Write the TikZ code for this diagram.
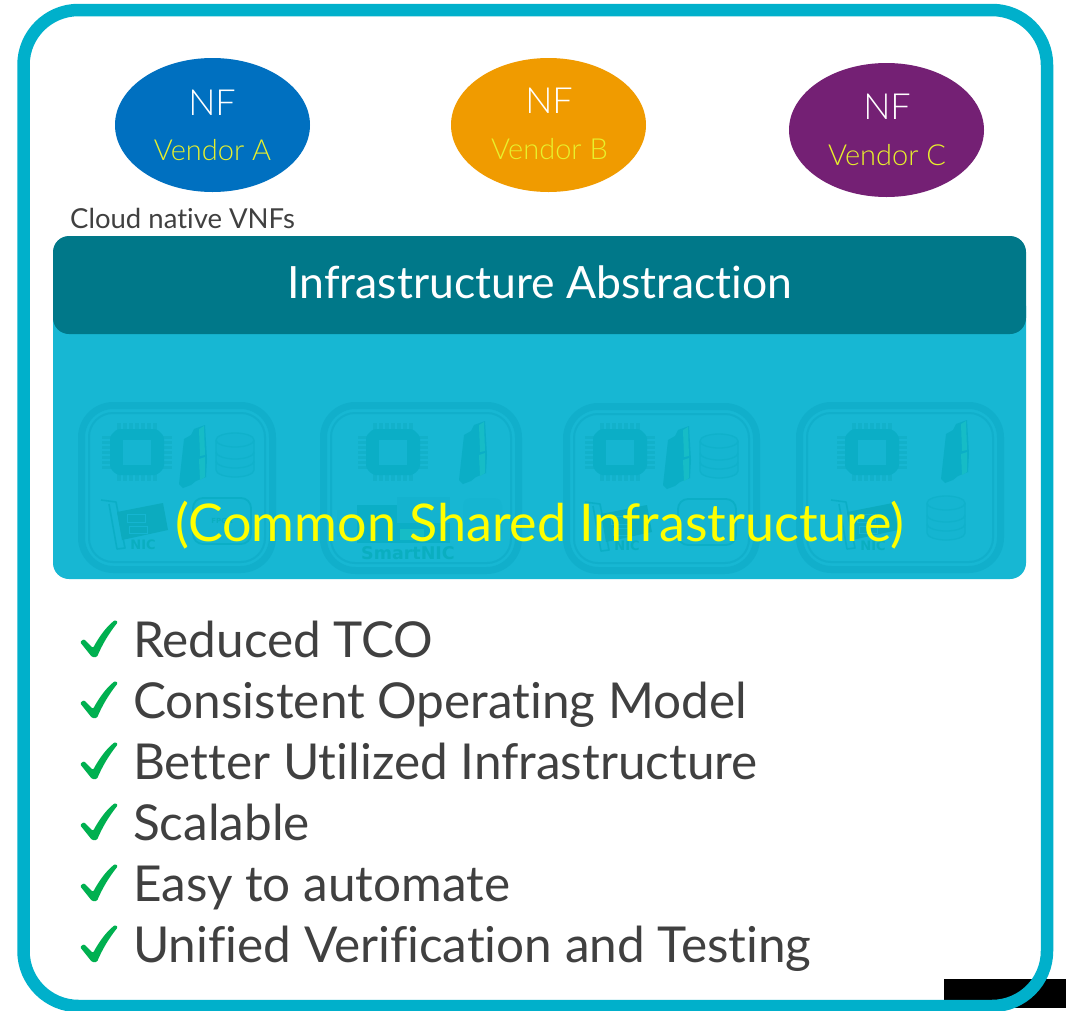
\documentclass[tikz,border=0pt]{standalone}
\usepackage{fontspec}
\setmainfont{Lato}[Ligatures=NoCommon]
\newfontfamily\thinface{Lato Light}[Ligatures=NoCommon]
\newfontfamily\wideface{DejaVu Sans}
\definecolor{frameC}{HTML}{00B0CB}
\definecolor{panelC}{HTML}{17B7D3}
\definecolor{barC}{HTML}{007889}
\definecolor{ringC}{HTML}{11AFCB}
\definecolor{iconC}{HTML}{0BAEC6}
\definecolor{memC}{HTML}{16BCC6}
\definecolor{nicC}{HTML}{0CABBF}
\definecolor{diskC}{HTML}{15B5D1}
\definecolor{legC}{HTML}{12B1CA}
\definecolor{labelC}{HTML}{0AAEC0}
\definecolor{nfA}{HTML}{0070C0}
\definecolor{nfB}{HTML}{F09B00}
\definecolor{nfC}{HTML}{742074}
\definecolor{yel}{HTML}{FFFF00}
\definecolor{vendorY}{HTML}{E8F02C}
\definecolor{txt}{HTML}{404040}
\definecolor{chk}{HTML}{00B050}
\usetikzlibrary{shapes.geometric}
\tikzset{
  x=1pt,y=-1pt,
  nf/.style={ellipse,minimum width=195pt,minimum height=134pt,inner sep=0pt,draw=none},
  nflabel/.style={text=white,font=\thinface\fontsize{36}{36}\selectfont,inner sep=0pt,anchor=base},
  vendorlabel/.style={text=vendorY,font=\thinface\fontsize{29}{29}\selectfont,inner sep=0pt,anchor=base},
  item/.style={text=txt,font=\fontsize{49.5}{49.5}\selectfont,inner sep=0pt,anchor=base west},
  srvtext/.style={text=labelC,inner sep=0pt,font=\wideface\bfseries\fontsize{13}{13}\selectfont},
  diskline/.style={iconC!60!panelC,line width=1.3pt},
}
% x1 x2 y1 y2: server box with its double outline
\newcommand{\srvbox}[4]{%
  \draw[ringC,line width=7pt,rounded corners=32pt] (#1+3.5,#3+3.5) rectangle (#2-3.5,#4-3.5);
  \draw[ringC,line width=2pt,rounded corners=24pt] (#1+11,#3+11) rectangle (#2-11,#4-11);
}
\newcommand{\chipicon}[2]{%
  \begin{scope}[shift={(#1,#2)}]
    \foreach \k in {-18,-12,-6,0,6,12,18}{
      \fill[legC] (\k-1.7,-29) rectangle (\k+1.7,29);
    }
    \foreach \k in {-15,-10,-5,0,5,10,15}{
      \fill[legC] (-35,\k-1.5) rectangle (35,\k+1.5);
    }
    \fill[iconC,rounded corners=3pt] (-20,-23) -- (20,-23) -- (27,-16) -- (27,16) -- (20,23) -- (-20,23) -- (-27,16) -- (-27,-16) -- cycle;
    \fill[diskC] (-14,-12.5) rectangle (14,12.5);
  \end{scope}}
\newcommand{\memicon}[2]{%
  \begin{scope}[shift={(#1,#2)}]
    \fill[iconC] (-14,27) -- (-9,-18) -- (-2,-22) -- (1,-28) -- (12,-32) -- (14,2) -- (13,20) -- (3,24) -- (-2,28) -- (-10,31) -- cycle;
    \fill[memC] (6,-28) -- (11,-31) -- (12,-2) -- (7,-1) -- cycle;
    \fill[memC] (6,2) -- (12,0) -- (12,20) -- (7,23) -- cycle;
  \end{scope}}
\newcommand{\diskicon}[2]{%
  \begin{scope}[shift={(#1,#2)}]
    \draw[diskline,fill=diskC] (-19,-15) -- (-19,15) arc[start angle=180,end angle=0,x radius=19,y radius=7] -- (19,-15);
    \draw[diskline,fill=diskC] (0,-15) ellipse[x radius=19,y radius=7];
    \draw[diskline] (-19,-3) arc[start angle=180,end angle=0,x radius=19,y radius=7];
    \draw[diskline] (-19,6) arc[start angle=180,end angle=0,x radius=19,y radius=7];
  \end{scope}}
\newcommand{\nicicon}[2]{%
  \begin{scope}[shift={(#1,#2)}]
    \draw[iconC,line width=1.6pt,line join=round] (0,0) -- (15,2) -- (24,48) -- (16,49) -- (8,4);
    \fill[nicC] (16,12) -- (62,3) -- (67,30) -- (21,40) -- cycle;
    \draw[diskC,line width=.8pt] (26,14) rectangle (44,22);
    \draw[diskC,line width=.8pt] (28,26) rectangle (46,33);
  \end{scope}}
\newcommand{\fpgaicon}[2]{%
  \draw[iconC,line width=1.8pt,fill=diskC,rounded corners=10pt] (#1-29,#2-23) rectangle (#1+29,#2+23);
}
\newcommand{\checkicon}[1]{%
  \fill[chk,shift={(0,#1)},rounded corners=1.2pt] (80,-15) -- (84,-18) -- (93,-9)
    .. controls (99,-20) and (106,-30) .. (115,-37) -- (118,-35)
    .. controls (109,-24) and (102,-12) .. (97,0) -- (92,0) -- cycle;}
\begin{document}
\begin{tikzpicture}
\useasboundingbox (0,0) rectangle (1066,1010);
\fill[white] (0,0) rectangle (1066,1010);
% black remnant, bottom right
\fill[black] (944,979) rectangle (1066,1008);
% outer frame
\draw[frameC,line width=12.5pt,rounded corners=55pt] (23.5,10) rectangle (1047,1006);
% vendors
\node[nf,fill=nfA] (nfa) at (212.5,125) {};
\node[nf,fill=nfB] (nfb) at (548.5,125) {};
\node[nf,fill=nfC] (nfc) at (886.5,130) {};
\node[nflabel] (nfat) at (212,115) {NF};
\node[nflabel] (nfbt) at (549,113) {NF};
\node[nflabel] (nfct) at (887,119) {NF};
\node[vendorlabel] (va) at (212.5,160) {Vendor A};
\node[vendorlabel] (vb) at (549.5,159) {Vendor B};
\node[vendorlabel] (vc) at (887,165) {Vendor C};
\node[text=txt,font=\fontsize{27.5}{27.5}\selectfont,inner sep=0pt,anchor=base west] (cloud) at (70,228.5) {Cloud native VNFs};
% shared infrastructure panel
\fill[panelC,rounded corners=16pt] (53,290) rectangle (1026,579);
% servers
\srvbox{78}{276}{402}{573}
\srvbox{320}{522}{402}{574}
\srvbox{563}{760}{403}{574}
\srvbox{796}{1004}{402}{573}
\chipicon{137}{452}\memicon{193}{457}\diskicon{235}{455}
\nicicon{101}{500}\fpgaicon{222}{521}
\node[srvtext,font=\wideface\bfseries\fontsize{7}{7}\selectfont] (fpga1) at (222,521) {FPGA};
\node[srvtext] (nic1) at (143,545) {NIC};
\chipicon{393}{452}\memicon{473}{453}
\fill[diskC] (337,510) rectangle (357,537);
\fill[iconC] (357,505) rectangle (450,543);
\fill[ringC!50!panelC] (397,497) rectangle (450,523);
\fill[memC] (400,529) rectangle (424,540);
\node[srvtext,font=\wideface\bfseries\fontsize{17.5}{17.5}\selectfont] (snic) at (408,553) {SmartNIC};
\fill[diskC,rounded corners=8pt] (463,498) rectangle (502,540);
\chipicon{620}{452}\memicon{677}{458}\diskicon{719}{456}
\nicicon{585}{502}\fpgaicon{707}{522}
\node[srvtext] (nic3) at (627,546) {NIC};
\chipicon{872}{452}\memicon{955}{452}\diskicon{946}{518}
\nicicon{831}{500}
\node[srvtext] (nic4) at (873,546) {NIC};
% bar
\fill[barC,rounded corners=16pt] (53,236) rectangle (1026,334);
\node[text=white,font=\fontsize{44.5}{44.5}\selectfont,inner sep=0pt,anchor=base] (abs) at (540,298) {Infrastructure Abstraction};
\node[text=yel,font=\fontsize{52}{52}\selectfont,inner sep=0pt,anchor=base] (common) at (540,541) {(Common Shared Infrastructure)};
% benefits
\checkicon{657}\node[item] (i1) at (133,657.5) {Reduced TCO};
\checkicon{718}\node[item] (i2) at (133,718.5) {Consistent Operating Model};
\checkicon{779}\node[item] (i3) at (133,779.5) {Better Utilized Infrastructure};
\checkicon{840}\node[item] (i4) at (133,840.5) {Scalable};
\checkicon{901}\node[item] (i5) at (133,901.5) {Easy to automate};
\checkicon{962}\node[item] (i6) at (133,962.5) {Unified Verification and Testing};
\end{tikzpicture}
\end{document}
